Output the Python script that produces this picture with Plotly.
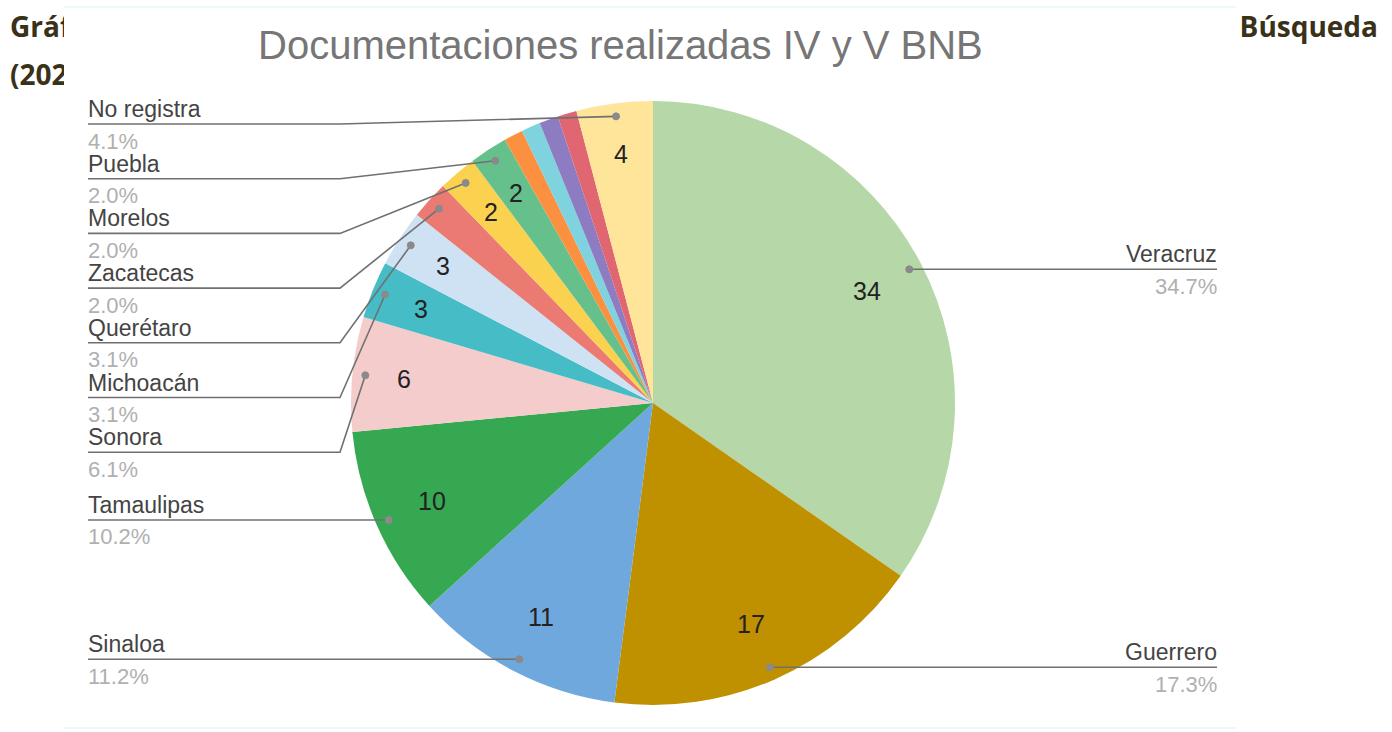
import math
import plotly.graph_objects as go

# Documentaciones por estado (IV y V Brigada Nacional de Búsqueda)
estados = [
    "Veracruz", "Guerrero", "Sinaloa", "Tamaulipas", "Sonora", "Michoacán",
    "Querétaro", "Zacatecas", "Morelos", "Puebla",
    "Otro 1", "Otro 2", "Otro 3", "Otro 4", "No registra",
]
documentaciones = [34, 17, 11, 10, 6, 3, 3, 2, 2, 2, 1, 1, 1, 1, 4]
colores = [
    "#b6d7a8", "#bf9000", "#6fa8dc", "#36a852", "#f4cccc", "#46bdc6",
    "#cfe2f3", "#ea7a72", "#fbd24f", "#66c08c",
    "#fb9040", "#7fd3df", "#8e7cc3", "#e06671", "#ffe599",
]
# Etiquetas con línea guía a la izquierda (de arriba hacia abajo) y a la derecha
etiquetas_izq = ["No registra", "Puebla", "Morelos", "Zacatecas", "Querétaro",
                 "Michoacán", "Sonora", "Tamaulipas", "Sinaloa"]
etiquetas_der = ["Veracruz", "Guerrero"]
# Porciones sin número dentro
sin_numero = ["Zacatecas", "Otro 1", "Otro 2", "Otro 3", "Otro 4"]

titulo = "Documentaciones realizadas IV y V BNB"

W, H = 1392, 732
CX, CY, R = 653, 403, 302          # centro y radio del pastel (px)
FONT = "Liberation Sans, Arial, sans-serif"

total = sum(documentaciones)
angulos = {}
acum = 0
for nombre, v in zip(estados, documentaciones):
    angulos[nombre] = (acum + v / 2) / total * 2 * math.pi
    acum += v


def punto(nombre, r):
    a = angulos[nombre]
    return CX + r * math.sin(a), CY - r * math.cos(a)


def pct(nombre):
    v = documentaciones[estados.index(nombre)]
    return f"{v / total * 100:.1f}%"


fig = go.Figure()

# Texto de la página detrás del gráfico
fig.add_trace(go.Scatter(
    x=[10, 10, 1378], y=[30, 78, 30], mode="text",
    text=["<b>Gráfica</b>", "<b>(2021)</b>", "<b>Búsqueda</b>"],
    textposition=["middle right", "middle right", "middle left"],
    textfont=dict(family="Open Sans, sans-serif", size=28, color="#3a3119"),
    hoverinfo="skip", showlegend=False,
))
# Fondo blanco del gráfico
fig.add_trace(go.Scatter(
    x=[64, 1236, 1236, 64, 64], y=[7, 7, 729, 729, 7],
    mode="lines", fill="toself", fillcolor="white",
    line=dict(width=0, color="white"),
    hoverinfo="skip", showlegend=False,
))
# Bordes tenues superior e inferior
for yb in (7, 728):
    fig.add_trace(go.Scatter(
        x=[64, 1236], y=[yb, yb], mode="lines",
        line=dict(width=2, color="#eef8f4"),
        hoverinfo="skip", showlegend=False,
    ))

fig.add_trace(go.Pie(
    labels=estados, values=documentaciones, sort=False,
    direction="clockwise", rotation=0,
    marker=dict(colors=colores, line=dict(width=0)),
    textinfo="none", hoverinfo="label+value+percent",
    domain=dict(x=[(CX - R) / W, (CX + R) / W],
                y=[(H - CY - R) / H, (H - CY + R) / H]),
    showlegend=False,
))

shapes = []
annotations = []

# Números dentro de las porciones
for nombre, v in zip(estados, documentaciones):
    if nombre in sin_numero:
        continue
    r = 0.80 * R if v / total > 0.1 else 0.83 * R
    x, y = punto(nombre, r)
    annotations.append(dict(x=x, y=y, xref="x", yref="y", text=str(v),
                            showarrow=False, font=dict(family=FONT, size=25, color="#222222")))

LINEA = dict(color="#707070", width=1.6)


def punto_guia(x, y):
    shapes.append(dict(type="circle", xref="x", yref="y",
                       x0=x - 3.5, x1=x + 3.5, y0=y - 3.5, y1=y + 3.5,
                       fillcolor="#8a8a8a", line=dict(color="#8a8a8a", width=1)))


def textos(nombre, x, y, anchor):
    annotations.append(dict(x=x, y=y - 15, xref="x", yref="y", text=nombre,
                            xanchor=anchor, yanchor="middle", showarrow=False,
                            font=dict(family=FONT, size=23, color="#444444")))
    annotations.append(dict(x=x, y=y + 17, xref="x", yref="y", text=pct(nombre),
                            xanchor=anchor, yanchor="middle", showarrow=False,
                            font=dict(family=FONT, size=22, color="#b0b0b0")))


# Etiquetas izquierdas apiladas
X_TXT, X_CODO, TOPE, PASO = 86, 340, 124, 54.7
previo = None
for nombre in etiquetas_izq:
    px, py = punto(nombre, 0.957 * R)
    y = max(py, TOPE if previo is None else previo + PASO)
    previo = y
    shapes.append(dict(type="path", xref="x", yref="y",
                       path=f"M {X_TXT + 2} {y} L {X_CODO} {y} L {px} {py}", line=LINEA))
    punto_guia(px, py)
    textos(nombre, X_TXT, y, "left")

# Etiquetas derechas
X_DER = 1219
for nombre in etiquetas_der:
    px, py = punto(nombre, 0.957 * R)
    shapes.append(dict(type="path", xref="x", yref="y",
                       path=f"M {px} {py} L {X_DER - 2} {py}", line=LINEA))
    punto_guia(px, py)
    textos(nombre, X_DER, py, "right")

annotations.append(dict(x=620, y=45, xref="x", yref="y", text=titulo, showarrow=False,
                        font=dict(family=FONT, size=40, color="#767676")))

fig.update_layout(
    width=W, height=H, margin=dict(l=0, r=0, t=0, b=0),
    paper_bgcolor="white", plot_bgcolor="white",
    xaxis=dict(range=[0, W], visible=False, fixedrange=True, domain=[0, 1]),
    yaxis=dict(range=[H, 0], visible=False, fixedrange=True, domain=[0, 1]),
    shapes=shapes, annotations=annotations, showlegend=False,
)

fig.write_html("out.html")
